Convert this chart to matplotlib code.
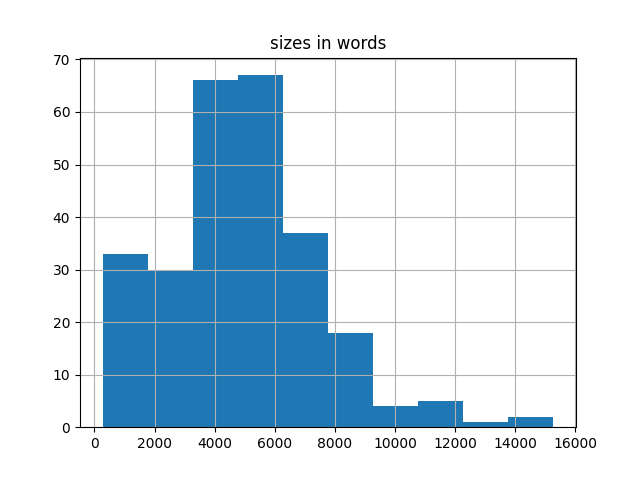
import matplotlib
matplotlib.use('Agg')
import matplotlib.pyplot as plt

# histogram bin edges (words) and counts
bin_edges = [270, 1770, 3270, 4770, 6270, 7770, 9270, 10770, 12270, 13770, 15270]
counts = [33, 30, 66, 67, 37, 18, 4, 5, 1, 2]

fig, ax = plt.subplots(figsize=(6.4, 4.8), dpi=100)
ax.hist(bin_edges[:-1], bins=bin_edges, weights=counts, color='#1f77b4')
ax.grid(True)
ax.set_title('sizes in words')
ax.set_xticks([0, 2000, 4000, 6000, 8000, 10000, 12000, 14000, 16000])

fig.savefig('out.png', dpi=100)
